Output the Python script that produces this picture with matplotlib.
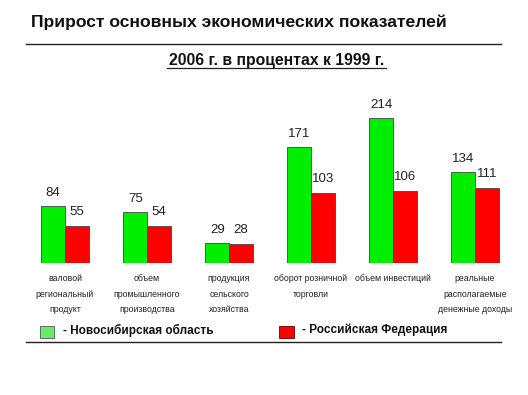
import matplotlib.pyplot as plt
from matplotlib.patches import Rectangle
from matplotlib.lines import Line2D

plt.rcParams['font.family'] = ['Liberation Sans', 'DejaVu Sans']

# Données
categories = [
    "валовой\nрегиональный\nпродукт",
    "объем\nпромышленного\nпроизводства",
    "продукция\nсельского\nхозяйства",
    "оборот розничной\nторговли",
    "объем инвестиций",
    "реальные\nрасполагаемые\nденежные доходы",
]
novosibirsk = [84, 75, 29, 171, 214, 134]
russia = [55, 54, 28, 103, 106, 111]

W, H = 528, 395
fig = plt.figure(figsize=(W / 100, H / 100), dpi=100)
fig.patch.set_facecolor('white')

# Zone des barres (en pixels de l'image)
left, right = 24, 516
base_y, top_y = 263, 93.5
ax = fig.add_axes([left / W, (H - base_y) / H, (right - left) / W, (base_y - top_y) / H])
ax.set_xlim(-0.5, len(categories) - 0.5)
ax.set_ylim(0, 250)
ax.axis('off')

bw = 0.287
x = list(range(len(categories)))
ax.bar([i - bw / 2 for i in x], novosibirsk, width=bw, color='#00ee00',
       edgecolor='#444444', linewidth=0.6)
ax.bar([i + bw / 2 for i in x], russia, width=bw, color='#ff0000',
       edgecolor='#444444', linewidth=0.6)

for i in x:
    ax.annotate(str(novosibirsk[i]), (i - bw / 2, novosibirsk[i]), xytext=(0, 13),
                textcoords='offset pixels', ha='center', va='center',
                fontsize=9.5, color='#222222')
    ax.annotate(str(russia[i]), (i + bw / 2, russia[i]), xytext=(0, 14),
                textcoords='offset pixels', ha='center', va='center',
                fontsize=9.5, color='#222222')
    ax.annotate(categories[i], (i, 0), xytext=(0, -11), textcoords='offset pixels',
                ha='center', va='top', fontsize=6.3, color='#222222',
                linespacing=1.95, annotation_clip=False)


def px(xp, yp):
    return xp / W, 1 - yp / H


# Titre et sous-titre
fig.text(*px(31, 22), "Прирост основных экономических показателей",
         fontsize=12.6, fontweight='bold', ha='left', va='center', color='#111111')
fig.add_artist(Line2D([26 / W, 501 / W], [1 - 44 / H, 1 - 44 / H],
                      color='#222222', linewidth=1))
fig.text(*px(277, 61), "2006 г. в процентах к 1999 г.",
         fontsize=11.3, fontweight='bold', ha='center', va='center', color='#111111')
fig.add_artist(Line2D([167 / W, 386 / W], [1 - 68 / H, 1 - 68 / H],
                      color='#222222', linewidth=0.9))

# Légende
fig.add_artist(Rectangle(px(40, 338), 14 / W, 12 / H, transform=fig.transFigure,
                         facecolor='#66ee66', edgecolor='#555555', linewidth=0.6))
fig.text(*px(63, 330), "- Новосибирская область", fontsize=8.5, fontweight='bold',
         ha='left', va='center', color='#111111')
fig.add_artist(Rectangle(px(279, 338), 15 / W, 12 / H, transform=fig.transFigure,
                         facecolor='#ff0000', edgecolor='#660000', linewidth=0.6))
fig.text(*px(302, 330), "- Российская Федерация", fontsize=8.5, fontweight='bold',
         ha='left', va='center', color='#111111')
fig.add_artist(Line2D([26 / W, 501 / W], [1 - 342 / H, 1 - 342 / H],
                      color='#222222', linewidth=1))

fig.savefig('out.png', dpi=100, facecolor='white')
